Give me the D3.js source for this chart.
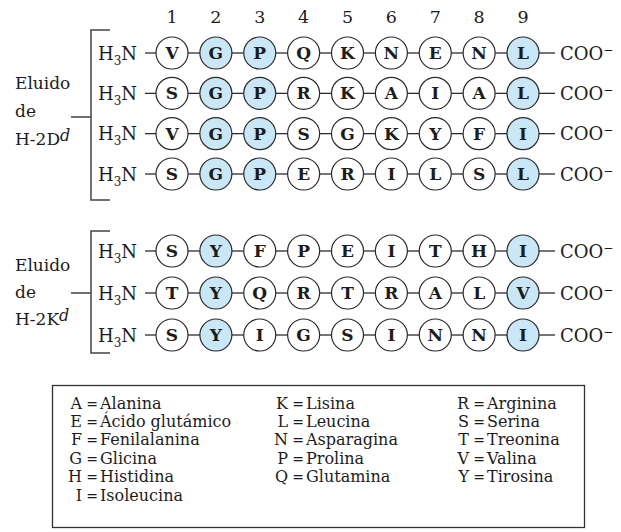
<!DOCTYPE html>
<html><head><meta charset="utf-8">
<script src="https://cdn.jsdelivr.net/npm/d3@7"></script>
<style>html,body{margin:0;padding:0;background:#fff;}svg{display:block;}</style>
</head><body>
<svg id="c" width="621" height="532"></svg>
<script>
// ---- data ----
const positions = [1,2,3,4,5,6,7,8,9];
const groupLabels = [["Eluido","de","H-2D","d"],["Eluido","de","H-2K","d"]];
const seqH2D = ["VGPQKNENL","SGPRKAIAL","VGPSGKYFI","SGPERILSL"];
const seqH2K = ["SYFPEITHI","TYQRTRALV","SYIGSINNI"];
const anchorsH2D = [2,3,9];
const anchorsH2K = [2,9];
const legendCol1 = [["A","Alanina"],["E","Ácido glutámico"],["F","Fenilalanina"],["G","Glicina"],["H","Histidina"],["I","Isoleucina"]];
const legendCol2 = [["K","Lisina"],["L","Leucina"],["N","Asparagina"],["P","Prolina"],["Q","Glutamina"]];
const legendCol3 = [["R","Arginina"],["S","Serina"],["T","Treonina"],["V","Valina"],["Y","Tirosina"]];

// ---- layout ----
const svg = d3.select("#c");
const FONT = "'DejaVu Serif', serif";
const ink = "#1c1c1c";
const blue = "#c9e7f6";
const R = 16;
const x = d3.scaleLinear().domain([1,9]).range([172,523]);

const groups = [
  {seqs: seqH2D, anchors: anchorsH2D, label: groupLabels[0],
   y: d3.scaleLinear().domain([0,3]).range([53,174]), top:30, bottom:200, tickY:117, labelY:[83,111,139]},
  {seqs: seqH2K, anchors: anchorsH2K, label: groupLabels[1],
   y: d3.scaleLinear().domain([0,2]).range([251,335]), top:231, bottom:353, tickY:293, labelY:[265,292,319]}
];

// position numbers
svg.append("g").selectAll("text").data(positions).join("text")
  .attr("x", d => x(d)).attr("y", 23)
  .attr("text-anchor","middle").attr("font-family",FONT).attr("font-size",17.5)
  .attr("fill",ink).text(d => d);

groups.forEach(g => {
  const G = svg.append("g");
  // bracket
  G.append("path")
    .attr("d", `M110,${g.top}H91V${g.bottom}H110M71,${g.tickY}H91`)
    .attr("fill","none").attr("stroke","#444").attr("stroke-width",1.5);
  // group label
  G.append("text").attr("x",15).attr("y",g.labelY[0]+6).attr("font-family",FONT).attr("font-size",17).attr("fill",ink).text(g.label[0]);
  G.append("text").attr("x",15).attr("y",g.labelY[1]+6).attr("font-family",FONT).attr("font-size",17).attr("fill",ink).text(g.label[1]);
  const t3 = G.append("text").attr("x",15).attr("y",g.labelY[2]+6).attr("font-family",FONT).attr("font-size",17).attr("fill",ink);
  t3.append("tspan").text(g.label[2]);
  t3.append("tspan").attr("font-style","italic").attr("font-size",16).attr("dy",-4).text(g.label[3]);

  g.seqs.forEach((s, i) => {
    const cy = g.y(i);
    const residues = s.split("").map((c, k) => ({c, pos: k+1}));
    // H3N
    const h = G.append("text").attr("x",98).attr("y",cy+6.5).attr("font-family",FONT).attr("font-size",18).attr("fill",ink);
    h.append("tspan").text("H");
    h.append("tspan").attr("font-size",12).attr("dy",5).text("3");
    h.append("tspan").attr("dy",-5).text("N");
    // connectors
    G.append("line").attr("x1",145).attr("x2",x(1)-R).attr("y1",cy).attr("y2",cy).attr("stroke",ink).attr("stroke-width",1.2);
    G.selectAll(null).data(positions.slice(0,8)).join("line")
      .attr("x1", d => x(d)+R).attr("x2", d => x(d+1)-R)
      .attr("y1",cy).attr("y2",cy).attr("stroke",ink).attr("stroke-width",1.2);
    G.append("line").attr("x1",x(9)+R).attr("x2",555).attr("y1",cy).attr("y2",cy).attr("stroke",ink).attr("stroke-width",1.2);
    // circles
    G.selectAll(null).data(residues).join("circle")
      .attr("cx", d => x(d.pos)).attr("cy", cy).attr("r", R)
      .attr("fill", d => g.anchors.includes(d.pos) ? blue : "#fff")
      .attr("stroke","#2a2a2a").attr("stroke-width",1.2);
    G.selectAll(null).data(residues).join("text")
      .attr("x", d => x(d.pos)).attr("y", cy+6)
      .attr("text-anchor","middle").attr("font-family",FONT).attr("font-weight","bold")
      .attr("font-size",17).attr("fill",ink).text(d => d.c);
    // COO-
    const c = G.append("text").attr("x",560).attr("y",cy+6.5).attr("font-family",FONT).attr("font-size",18).attr("fill",ink);
    c.append("tspan").text("COO");
    c.append("tspan").attr("font-size",12).attr("dy",-6).text("−");
  });
});

// legend
svg.append("rect").attr("x",52.5).attr("y",385.5).attr("width",532).attr("height",142)
  .attr("fill","#fff").attr("stroke","#333").attr("stroke-width",1.3);
const ly = d3.scaleLinear().domain([0,5]).range([403,495]);
[[legendCol1,82],[legendCol2,288],[legendCol3,469]].forEach(([col, xe]) => {
  const L = svg.append("g").attr("font-family",FONT).attr("font-size",16).attr("fill",ink);
  col.forEach((e, i) => {
    const yy = ly(i) + 5.5;
    L.append("text").attr("x",xe).attr("y",yy).attr("text-anchor","end").text(e[0]);
    L.append("text").attr("x",xe+10).attr("y",yy).attr("text-anchor","middle").attr("font-size",14).text("=");
    L.append("text").attr("x",xe+18).attr("y",yy).text(e[1]);
  });
});
</script>
</body></html>
